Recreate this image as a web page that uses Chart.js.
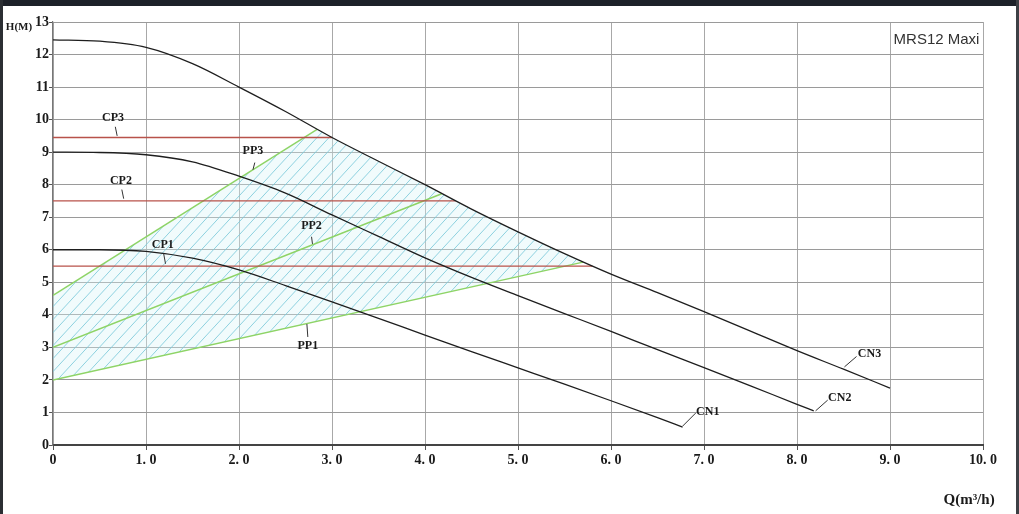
<!DOCTYPE html>
<html><head><meta charset="utf-8">
<script src="https://cdn.jsdelivr.net/npm/chart.js@4.4.0/dist/chart.umd.min.js"></script>
<style>
html,body{margin:0;padding:0;background:#fff;overflow:hidden;}
#wrap{position:relative;width:1019px;height:514px;background:#fff;}
canvas{position:absolute;left:0;top:0;}
.topbar{position:absolute;left:0;top:0;width:1019px;height:6px;background:#1d2129;}
.lbar{position:absolute;left:0;top:0;width:3px;height:514px;background:#2b2e33;}
.rbar{position:absolute;right:0;top:0;width:3px;height:514px;background:#3d4045;}
</style></head>
<body><div id="wrap"><canvas id="c" width="1019" height="514"></canvas><div class="topbar"></div><div class="lbar"></div><div class="rbar"></div></div>
<script>
// ---- data ----
const xTickLabels = ['0','1. 0','2. 0','3. 0','4. 0','5. 0','6. 0','7. 0','8. 0','9. 0','10. 0'];
const yTickLabels = ['0','1','2','3','4','5','6','7','8','9','10','11','12','13'];

const cn3X = [0,0.5,1,1.5,2,2.5,3,3.5,4,4.5,5,5.5,6,6.5,7,7.5,8,8.5,9];
const cn3Y = [12.45,12.41,12.22,11.72,11.0,10.25,9.45,8.72,8.0,7.25,6.55,5.88,5.25,4.68,4.1,3.5,2.9,2.33,1.75];
const cn2X = [0,0.5,1,1.5,2,2.5,3,3.5,4,4.5,5,5.5,6,6.5,7,7.5,8,8.18];
const cn2Y = [9.0,8.99,8.92,8.7,8.26,7.74,7.07,6.41,5.75,5.15,4.59,4.04,3.49,2.93,2.38,1.82,1.25,1.05];
const cn1X = [0,0.5,1,1.5,2,2.5,3,3.5,4,4.5,5,5.5,6,6.5,6.77];
const cn1Y = [6.0,6.0,5.95,5.74,5.38,4.9,4.4,3.89,3.38,2.87,2.37,1.87,1.36,0.84,0.55];

const cpLevels = [9.45, 7.5, 5.5];      // CP3, CP2, CP1
const cpEndQ   = [3.0, 4.33, 5.8];

const pp3X = [0, 2.84], pp3Y = [4.6, 9.7];
const pp2X = [0, 4.18], pp2Y = [3.0, 7.72];
const pp1X = [0, 5.7],  pp1Y = [2.0, 5.62];

const curveLabels = [
  {t:'CP3', x:0.645, y:10.06, a:[0.67,9.78,0.69,9.5]},
  {t:'CP2', x:0.73,  y:8.12,  a:[0.74,7.85,0.76,7.57]},
  {t:'CP1', x:1.18,  y:6.15,  a:[1.19,5.88,1.21,5.57]},
  {t:'PP3', x:2.15,  y:9.05,  a:[2.17,8.68,2.15,8.46]},
  {t:'PP2', x:2.78,  y:6.74,  a:[2.78,6.4,2.79,6.18]},
  {t:'PP1', x:2.74,  y:3.05,  a:[2.73,3.72,2.74,3.32]},
  {t:'CN3', x:8.78,  y:2.8,   a:[8.64,2.72,8.51,2.4]},
  {t:'CN2', x:8.46,  y:1.45,  a:[8.33,1.38,8.2,1.05]},
  {t:'CN1', x:7.04,  y:1.02,  a:[6.91,0.98,6.77,0.58]}
];

// ---- build ----
const pts = (xs, ys) => xs.map((x,i)=>({x, y: ys[i]}));

function hatch(){
  const w = 12, h = 13;
  const c = document.createElement('canvas');
  c.width = w; c.height = h;
  const g = c.getContext('2d');
  g.fillStyle = 'rgba(215,243,247,0.35)';
  g.fillRect(0,0,w,h);
  g.strokeStyle = 'rgba(125,202,218,0.85)';
  g.lineWidth = 1;
  g.beginPath();
  g.moveTo(-w, 2*h); g.lineTo(2*w, -h);
  g.moveTo(-2*w, 2*h); g.lineTo(w, -h);
  g.moveTo(0, 2*h); g.lineTo(3*w, -h);
  g.stroke();
  return g.createPattern(c, 'repeat');
}

const upper = pts(pp3X, pp3Y)
  .concat(pts(cn3X, cn3Y).filter(p => p.x > pp3X[pp3X.length-1] && p.x < pp1X[pp1X.length-1]))
  .concat([{x: pp1X[pp1X.length-1], y: pp1Y[pp1Y.length-1]}]);

const black = '#1e1e1e', red = '#b8524a', green = '#8ed466';
const datasets = [];
const cnStyle = {borderColor: black, borderWidth: 1.3, pointRadius: 0, showLine: true, cubicInterpolationMode: 'monotone', fill: false, order: 1};
datasets.push(Object.assign({label:'CN3', data: pts(cn3X, cn3Y)}, cnStyle));
datasets.push(Object.assign({label:'CN2', data: pts(cn2X, cn2Y)}, cnStyle));
datasets.push(Object.assign({label:'CN1', data: pts(cn1X, cn1Y)}, cnStyle));
['CP3','CP2','CP1'].forEach((n,i)=>{
  datasets.push({label:n, data:[{x:0,y:cpLevels[i]},{x:cpEndQ[i],y:cpLevels[i]}], borderColor: red, borderWidth: 1.3, pointRadius: 0, showLine: true, fill: false, order: 2});
});
const ppStyle = {borderColor: green, borderWidth: 1.5, pointRadius: 0, showLine: true, fill: false, order: 3};
datasets.push(Object.assign({label:'PP3', data: pts(pp3X, pp3Y)}, ppStyle));
datasets.push(Object.assign({label:'PP2', data: pts(pp2X, pp2Y)}, ppStyle));
const pp1Index = datasets.length;
datasets.push(Object.assign({label:'PP1', data: pts(pp1X, pp1Y)}, ppStyle));
datasets.push({label:'zone', data: upper, borderWidth: 0, borderColor: 'rgba(0,0,0,0)', pointRadius: 0, showLine: true, fill: pp1Index, backgroundColor: hatch(), order: 4});

const textPlugin = {
  id: 'txt',
  afterDatasetsDraw(chart){
    const {ctx, chartArea, scales:{x, y}} = chart;
    ctx.save();
    ctx.fillStyle = '#1a1a1a';
    ctx.strokeStyle = '#333';
    ctx.lineWidth = 1;
    ctx.font = 'bold 12px "Liberation Serif"';
    ctx.textAlign = 'center';
    ctx.textBaseline = 'middle';
    curveLabels.forEach(l => {
      ctx.fillText(l.t, x.getPixelForValue(l.x), y.getPixelForValue(l.y));
      ctx.beginPath();
      ctx.moveTo(x.getPixelForValue(l.a[0]), y.getPixelForValue(l.a[1]));
      ctx.lineTo(x.getPixelForValue(l.a[2]), y.getPixelForValue(l.a[3]));
      ctx.stroke();
    });
    ctx.font = '15px "Liberation Sans"';
    ctx.fillStyle = '#333';
    ctx.fillText('MRS12 Maxi', x.getPixelForValue(9.5), y.getPixelForValue(12.45));
    ctx.fillStyle = '#1a1a1a';
    ctx.font = 'bold 11px "Liberation Serif"';
    ctx.fillText('H(M)', chartArea.left - 34, chartArea.top + 5);
    ctx.font = 'bold 15px "Liberation Serif"';
    ctx.fillText('Q(m³/h)', x.getPixelForValue(9.85), chartArea.bottom + 55);
    ctx.restore();
  }
};

new Chart(document.getElementById('c'), {
  type: 'scatter',
  data: {datasets},
  options: {
    responsive: false,
    animation: false,
    devicePixelRatio: 1,
    layout: {padding: {top: 22, right: 36, bottom: 0, left: 0}},
    plugins: {legend: {display: false}, tooltip: {enabled: false}, filler: {drawTime: 'beforeDatasetsDraw'}},
    scales: {
      x: {
        type: 'linear', min: 0, max: 10,
        afterFit: s => { s.height = 69; },
        grid: {color: '#a8a8a8', lineWidth: 1, tickLength: 5, tickColor: '#555'},
        border: {color: '#444', width: 2},
        ticks: {stepSize: 1, padding: 2, color: '#1a1a1a', font: {family: 'Liberation Serif', weight: 'bold', size: 14},
          callback: (v, i) => xTickLabels[i], maxRotation: 0, autoSkip: false}
      },
      y: {
        type: 'linear', min: 0, max: 13,
        afterFit: s => { s.width = 53; },
        grid: {color: '#9a9a9a', lineWidth: 1, tickLength: 4, tickColor: '#555'},
        border: {color: '#777', width: 1.2},
        ticks: {stepSize: 1, padding: 0, color: '#1a1a1a', font: {family: 'Liberation Serif', weight: 'bold', size: 14},
          callback: (v, i) => yTickLabels[i], autoSkip: false}
      }
    }
  },
  plugins: [textPlugin]
});
</script>
</body></html>
